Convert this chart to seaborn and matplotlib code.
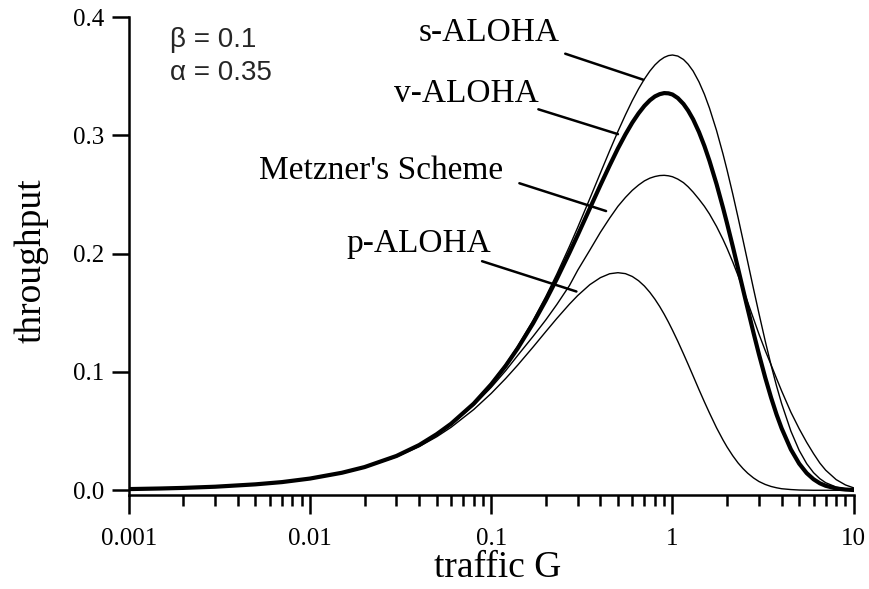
import matplotlib
matplotlib.use("Agg")
import matplotlib.pyplot as plt
from matplotlib.ticker import LogLocator, NullFormatter, FixedLocator
import seaborn as sns

# Offered traffic G (packets per packet time)
traffic = [0.001, 0.0015, 0.002, 0.003, 0.005, 0.007, 0.01, 0.015, 0.02, 0.03,
           0.04, 0.05, 0.06, 0.08, 0.1, 0.12, 0.14, 0.17, 0.2, 0.23,
           0.27, 0.3, 0.35, 0.4, 0.45, 0.5, 0.55, 0.6, 0.65, 0.7,
           0.75, 0.8, 0.85, 0.9, 0.95, 1.0, 1.07, 1.15, 1.22, 1.3,
           1.4, 1.5, 1.6, 1.75, 1.9, 2.0, 2.15, 2.3, 2.45, 2.6,
           2.8, 3.0, 3.25, 3.5, 3.75, 4.0, 4.5, 5.0, 5.5, 6.0,
           6.5, 7.0, 8.0, 9.0, 10.0]

# Throughput of each access scheme
s_aloha = [0.0010, 0.0015, 0.0020, 0.0030, 0.0050, 0.0070, 0.0099, 0.0148, 0.0196, 0.0291,
           0.0384, 0.0476, 0.0565, 0.0738, 0.0905, 0.1064, 0.1217, 0.1434, 0.1637, 0.1827,
           0.2061, 0.2222, 0.2466, 0.2681, 0.2869, 0.3033, 0.3173, 0.3293, 0.3393, 0.3476,
           0.3543, 0.3595, 0.3633, 0.3659, 0.3674, 0.3679, 0.3670, 0.3641, 0.3601, 0.3543,
           0.3452, 0.3347, 0.3230, 0.3041, 0.2842, 0.2707, 0.2505, 0.2306, 0.2114, 0.1931,
           0.1702, 0.1494, 0.1260, 0.1057, 0.0882, 0.0733, 0.0500, 0.0337, 0.0225, 0.0149,
           0.0098, 0.0064, 0.0027, 0.0011, 0.0005]
v_aloha = [0.0010, 0.0015, 0.0020, 0.0030, 0.0050, 0.0069, 0.0099, 0.0148, 0.0196, 0.0290,
           0.0382, 0.0474, 0.0562, 0.0732, 0.0896, 0.1051, 0.1200, 0.1410, 0.1605, 0.1786,
           0.2007, 0.2157, 0.2383, 0.2578, 0.2745, 0.2889, 0.3008, 0.3107, 0.3186, 0.3249,
           0.3296, 0.3329, 0.3348, 0.3357, 0.3355, 0.3345, 0.3315, 0.3265, 0.3209, 0.3135,
           0.3028, 0.2910, 0.2784, 0.2588, 0.2388, 0.2256, 0.2062, 0.1875, 0.1698, 0.1533,
           0.1330, 0.1149, 0.0951, 0.0783, 0.0641, 0.0524, 0.0345, 0.0225, 0.0145, 0.0093,
           0.0059, 0.0038, 0.0015, 0.0006, 0.0002]
metzner = [0.0010, 0.0015, 0.0020, 0.0030, 0.0050, 0.0070, 0.0099, 0.0147, 0.0195, 0.0288,
           0.0379, 0.0468, 0.0554, 0.0718, 0.0870, 0.1010, 0.1140, 0.1300, 0.1440, 0.1570,
           0.1730, 0.1860, 0.2030, 0.2180, 0.2300, 0.2400, 0.2475, 0.2535, 0.2580, 0.2615,
           0.2638, 0.2652, 0.2660, 0.2662, 0.2658, 0.2650, 0.2630, 0.2600, 0.2565, 0.2520,
           0.2460, 0.2400, 0.2335, 0.2230, 0.2120, 0.2045, 0.1930, 0.1815, 0.1700, 0.1590,
           0.1450, 0.1320, 0.1180, 0.1060, 0.0945, 0.0840, 0.0660, 0.0520, 0.0405, 0.0310,
           0.0230, 0.0170, 0.0090, 0.0045, 0.0020]
p_aloha = [0.0010, 0.0015, 0.0020, 0.0030, 0.0050, 0.0069, 0.0098, 0.0146, 0.0192, 0.0283,
           0.0369, 0.0452, 0.0532, 0.0682, 0.0819, 0.0944, 0.1058, 0.1210, 0.1341, 0.1452,
           0.1573, 0.1646, 0.1738, 0.1797, 0.1830, 0.1839, 0.1831, 0.1807, 0.1771, 0.1726,
           0.1673, 0.1615, 0.1553, 0.1488, 0.1421, 0.1353, 0.1259, 0.1153, 0.1064, 0.0966,
           0.0851, 0.0747, 0.0653, 0.0528, 0.0425, 0.0366, 0.0292, 0.0231, 0.0183, 0.0144,
           0.0104, 0.0074, 0.0049, 0.0032, 0.0021, 0.0013, 0.0006, 0.0002, 0.0001, 0.0000,
           0.0000, 0.0000, 0.0000, 0.0000, 0.0000]

x_ticks = [0.001, 0.01, 0.1, 1, 10]
x_ticklabels = ["0.001", "0.01", "0.1", "1", "10"]
y_ticks = [0.0, 0.1, 0.2, 0.3, 0.4]
y_ticklabels = ["0.0", "0.1", "0.2", "0.3", "0.4"]

sns.set_theme(style="ticks")
plt.rcParams["font.family"] = ["Liberation Serif", "DejaVu Serif"]

fig = plt.figure(figsize=(8.7, 5.89), dpi=100)
ax = fig.add_axes([0.148, 0.1596, 0.8333, 0.8115])

curves = [
    ("s-ALOHA", s_aloha, 1.0),
    ("v-ALOHA", v_aloha, 3.0),
    ("Metzner's Scheme", metzner, 1.0),
    ("p-ALOHA", p_aloha, 1.0),
]
for name, vals, lw in curves:
    sns.lineplot(x=traffic, y=vals, ax=ax, color="black", linewidth=lw,
                 estimator=None, sort=False, legend=False)

ax.set_xscale("log")
ax.set_xlim(0.001, 10)
ax.set_ylim(-0.004, 0.4)

ax.xaxis.set_major_locator(FixedLocator(x_ticks))
ax.set_xticklabels(x_ticklabels)
ax.xaxis.set_minor_locator(LogLocator(base=10, subs=range(2, 10)))
ax.xaxis.set_minor_formatter(NullFormatter())
ax.set_yticks(y_ticks)
ax.set_yticklabels(y_ticklabels)

ax.tick_params(axis="x", which="major", direction="out", length=14, width=1.8,
               pad=10, labelsize=18, color="black", labelcolor="black")
ax.tick_params(axis="x", which="minor", direction="out", length=8, width=1.8,
               color="black")
ax.tick_params(axis="y", which="major", direction="out", length=12, width=1.8,
               pad=6, labelsize=18, color="black", labelcolor="black")

sns.despine(ax=ax)
for side in ("left", "bottom"):
    ax.spines[side].set_linewidth(1.8)
    ax.spines[side].set_color("black")

ax.set_xlabel("traffic G", fontsize=27, color="black")
ax.set_ylabel("throughput", fontsize=27, color="black")
ax.xaxis.set_label_coords(0.509, -0.153)
ax.xaxis.label.set_verticalalignment("center")
ax.yaxis.set_label_coords(-0.135, 0.49)
ax.yaxis.label.set_verticalalignment("center")

# Parameter box in the upper left
ax.text(0.00169, 0.375, "β = 0.1", fontsize=20, ha="left", va="baseline",
        family=["Liberation Sans", "DejaVu Sans"])
ax.text(0.00169, 0.347, "α = 0.35", fontsize=20, ha="left", va="baseline",
        family=["Liberation Sans", "DejaVu Sans"])

# Curve names with leader lines
callouts = [
    ("s-ALOHA", (0.0975, 0.3795), (0.256, 0.369), (0.69, 0.347)),
    ("v-ALOHA", (0.0728, 0.328), (0.182, 0.322), (0.50, 0.301)),
    ("Metzner's Scheme", (0.0247, 0.263), (0.143, 0.2595), (0.43, 0.236)),
    ("p-ALOHA", (0.0398, 0.201), (0.089, 0.1936), (0.295, 0.168)),
]
for text, text_pos, line_start, line_end in callouts:
    ax.text(*text_pos, text, fontsize=24, ha="center", va="baseline", color="black")
    ax.annotate("", xy=line_end, xytext=line_start,
                arrowprops=dict(arrowstyle="-", lw=1.8, color="black",
                                shrinkA=0, shrinkB=0))

fig.savefig("out.png", dpi=100, facecolor="white")
